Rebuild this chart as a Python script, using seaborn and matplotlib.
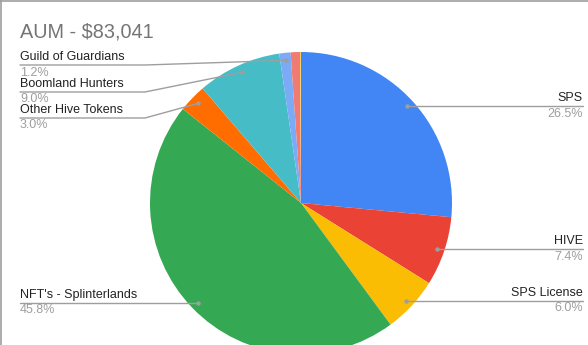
import numpy as np
import matplotlib
matplotlib.use("Agg")
import matplotlib.pyplot as plt
import seaborn as sns

# ---- data ----
title = "AUM - $83,041"
categories = ["SPS", "HIVE", "SPS License", "NFT's - Splinterlands",
              "Other Hive Tokens", "Boomland Hunters", "Guild of Guardians",
              "Other", "Misc"]
values = [26.5, 7.4, 6.0, 45.8, 3.0, 9.0, 1.2, 1.0, 0.1]
pct_labels = ["26.5%", "7.4%", "6.0%", "45.8%", "3.0%", "9.0%", "1.2%", "", ""]
colors = ["#4285F4", "#EA4335", "#FBBC04", "#34A853", "#FF6D01",
          "#46BDC6", "#7BAAF7", "#F07B72", "#FCD04F"]

sns.set_theme(style="white")
plt.rcParams['font.family'] = ['Liberation Sans', 'DejaVu Sans']

W, H = 588, 345
fig = plt.figure(figsize=(W / 100, H / 100), dpi=100)
ax = fig.add_axes([0, 0, 1, 1])

def py(y):
    return H - y

cx, cy, R = 301, 203, 151
palette = sns.color_palette(colors)
wedges, _ = ax.pie(values, colors=palette, startangle=90, counterclock=False,
                   center=(cx, py(cy)), radius=R,
                   wedgeprops=dict(linewidth=0))
ax.set_xlim(0, W)
ax.set_ylim(0, H)
ax.set_aspect('equal')
ax.axis('off')

# label layout: (index, side, line_y or None for horizontal-at-dot, elbow_x)
layout = [
    (0, 'right', None, None),
    (1, 'right', None, None),
    (2, 'right', None, None),
    (3, 'left', None, None),
    (4, 'left', 118, 145),
    (5, 'left', 92, 145),
    (6, 'left', 65, 145),
]
FS = 9.0
total = sum(values)
cum = np.cumsum([0] + values)
line_col = "#9e9e9e"
for i, side, ly, ex in layout:
    mid = (cum[i] + values[i] / 2) / total * 360
    th = np.deg2rad(mid)
    dx = cx + 0.95 * R * np.sin(th)
    dy = cy - 0.95 * R * np.cos(th)
    if ly is None:
        ly = dy
    ax.plot([dx], [py(dy)], 'o', color=line_col, ms=3.2, mec='none', zorder=5)
    if side == 'right':
        ax.plot([dx, 583], [py(dy), py(ly)], color=line_col, lw=1, zorder=4)
        ax.text(583, py(ly) + 2, categories[i], ha='right', va='bottom',
                fontsize=FS, color='#222222')
        ax.text(583, py(ly) - 1.5, pct_labels[i], ha='right', va='top',
                fontsize=FS, color='#9e9e9e')
    else:
        if ex is None:
            xs, ys = [20, dx], [py(ly), py(dy)]
        else:
            xs, ys = [20, ex, dx], [py(ly), py(ly), py(dy)]
        ax.plot(xs, ys, color=line_col, lw=1, zorder=4)
        ax.text(20, py(ly) + 2, categories[i], ha='left', va='bottom',
                fontsize=FS, color='#222222')
        ax.text(20, py(ly) - 1.5, pct_labels[i], ha='left', va='top',
                fontsize=FS, color='#9e9e9e')

ax.text(20, py(37), title, ha='left', va='baseline', fontsize=14.3,
        color='#757575')

# frame (top & left)
ax.plot([0.5, 0.5], [0, H], color='#9e9e9e', lw=1.2, clip_on=False)
ax.plot([0, W], [H - 0.5, H - 0.5], color='#9e9e9e', lw=1.2, clip_on=False)

fig.savefig("out.png", dpi=100)
